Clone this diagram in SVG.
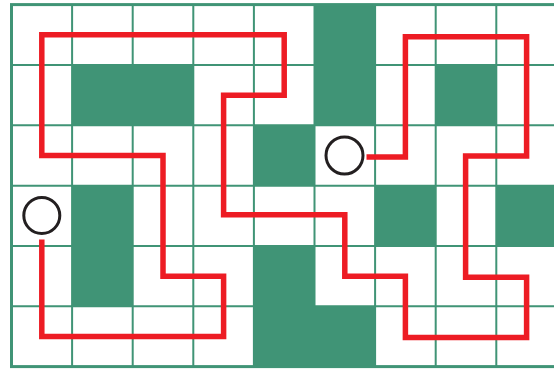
<svg xmlns="http://www.w3.org/2000/svg" width="554" height="369" viewBox="0 0 554 369">
  <style>
    .grid { stroke: #409476; stroke-width: 2; fill: none; }
    .border { stroke: #409476; stroke-width: 3; fill: none; }
    .cell { fill: #409476; }
    .route { stroke: #ed1c24; stroke-width: 5.5; fill: none; stroke-linejoin: miter; stroke-linecap: butt; }
    .ring { stroke: #231f20; stroke-width: 3; fill: #ffffff; }
  </style>
  <rect width="554" height="369" fill="#ffffff"/>
  <g id="grid">
    <path class="grid" d="M72.1 4.6V366.6M132.7 4.6V366.6M193.3 4.6V366.6M253.9 4.6V366.6M314.5 4.6V366.6M375.1 4.6V366.6M435.7 4.6V366.6M496.3 4.6V366.6M11.5 64.95H557M11.5 125.3H557M11.5 185.65H557M11.5 246H557M11.5 306.35H557"/>
  </g>
  <g id="blocks">
    <rect class="cell" x="314.5" y="4.6" width="60.6" height="120.7"/>
    <rect class="cell" x="72.1" y="64.95" width="121.2" height="60.35"/>
    <rect class="cell" x="435.7" y="64.95" width="60.6" height="60.35"/>
    <rect class="cell" x="253.9" y="125.3" width="60.6" height="60.35"/>
    <rect class="cell" x="72.1" y="185.65" width="60.6" height="120.7"/>
    <rect class="cell" x="375.1" y="185.65" width="60.6" height="60.35"/>
    <rect class="cell" x="496.3" y="185.65" width="60.6" height="60.35"/>
    <rect class="cell" x="253.9" y="246" width="60.6" height="120.6"/>
    <rect class="cell" x="314.5" y="306.35" width="60.6" height="60.25"/>
  </g>
  <rect class="border" x="11.5" y="4.6" width="546" height="362"/>
  <g id="connectors">
    <path class="route" d="M41.8 239.5V336.5H223.6V276.15H163V155.5H41.8V34.75H284.2V95.15H223.6V214.85H344.8V276.15H405.4V337.5H526.6V277.15H465.6V156H526.6V36.75H405.4V157H366.5"/>
  </g>
  <g id="start">
    <circle class="ring" cx="41.8" cy="215.5" r="18"/>
  </g>
  <g id="end">
    <circle class="ring" cx="344.5" cy="155.5" r="18.5"/>
  </g>
</svg>
